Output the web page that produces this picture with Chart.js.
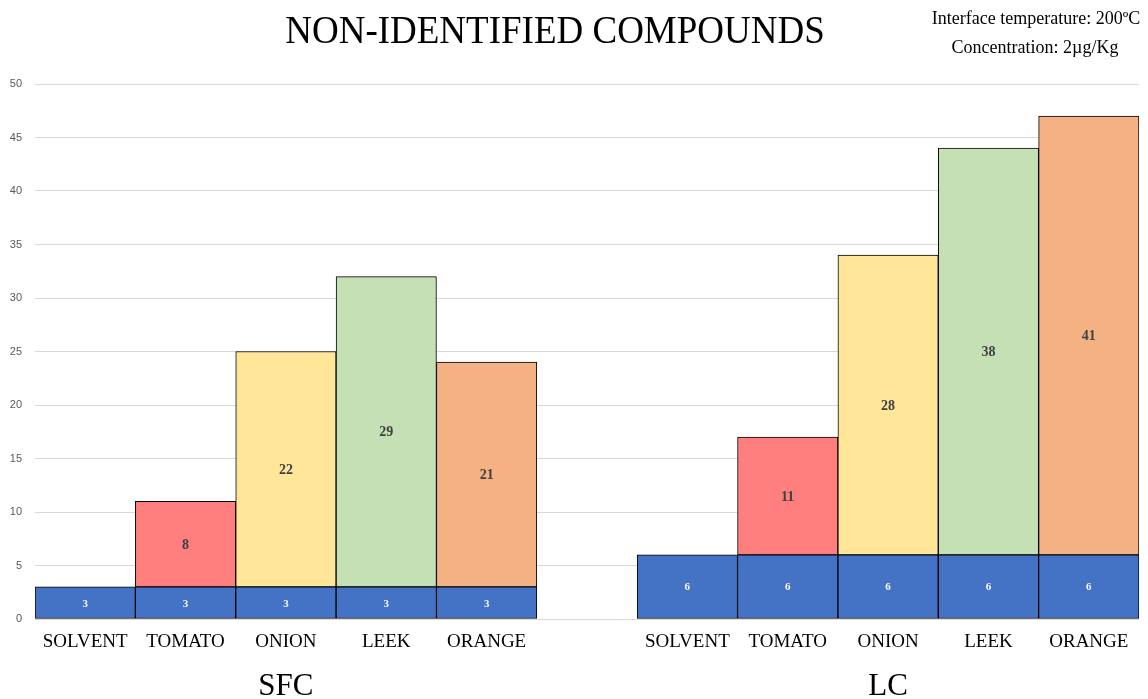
<!DOCTYPE html>
<html>
<head>
<meta charset="utf-8">
<script src="https://cdn.jsdelivr.net/npm/chart.js@4.4.1/dist/chart.umd.min.js"></script>
<style>
  html, body { margin: 0; padding: 0; background: #ffffff; }
  #wrap { width: 1148px; height: 699px; position: relative; }
</style>
</head>
<body>
<div id="wrap"><canvas id="chart" width="1148" height="699"></canvas></div>
<script>
// Categories: five SFC samples, an empty spacer, five LC samples
const categories = ['SOLVENT', 'TOMATO', 'ONION', 'LEEK', 'ORANGE', '',
                    'SOLVENT', 'TOMATO', 'ONION', 'LEEK', 'ORANGE'];
// Compounds found in the solvent blank (base of each stack)
const solventCounts = [3, 3, 3, 3, 3, null, 6, 6, 6, 6, 6];
// Additional compounds found in each matrix (top of each stack)
const matrixCounts  = [0, 8, 22, 29, 21, null, 0, 11, 28, 38, 41];
const yTicks = { min: 0, max: 50, step: 5 };
const groupLabels = [ { text: 'SFC', index: 2 }, { text: 'LC', index: 8 } ];
const titleText = 'NON-IDENTIFIED COMPOUNDS';
const noteLines = ['Interface temperature: 200\u00baC', 'Concentration: 2\u00b5g/Kg'];

const matrixColors = ['#FF7F7F', '#FF7F7F', '#FFE699', '#C5E0B4', '#F4B183', '#ffffff',
                      '#FF7F7F', '#FF7F7F', '#FFE699', '#C5E0B4', '#F4B183'];

const serif = '"Liberation Serif", "Times New Roman", serif';
const sans = '"Liberation Sans", Arial, sans-serif';

// Draws text slightly stretched vertically, like the tall serif captions
function tallText(ctx, text, x, y, stretch) {
  ctx.save();
  ctx.translate(x, y);
  ctx.scale(1, stretch);
  ctx.fillText(text, 0, 0);
  ctx.restore();
}

// Value labels centred in each bar segment, plus title, note and group captions
const annotate = {
  id: 'annotate',
  afterDatasetsDraw(chart) {
    const ctx = chart.ctx;
    ctx.save();
    ctx.textAlign = 'center';
    ctx.textBaseline = 'middle';
    chart.data.datasets.forEach((ds, di) => {
      const meta = chart.getDatasetMeta(di);
      meta.data.forEach((bar, i) => {
        const v = ds.data[i];
        if (v === null || v === 0) return;
        const y = (bar.y + bar.base) / 2;
        if (di === 0) {
          ctx.font = 'bold 11px ' + serif;
          ctx.fillStyle = '#ffffff';
        } else {
          ctx.font = 'bold 14px ' + serif;
          ctx.fillStyle = '#404040';
        }
        ctx.fillText(String(v), bar.x, y + 1);
      });
    });
    ctx.restore();
  },
  afterDraw(chart) {
    const ctx = chart.ctx;
    const xs = chart.scales.x;
    ctx.save();
    ctx.fillStyle = '#000000';
    ctx.textAlign = 'center';
    ctx.textBaseline = 'middle';
    ctx.font = '37px ' + serif;
    tallText(ctx, titleText, 555, 33, 1.08);
    ctx.font = '18px ' + serif;
    ctx.fillText(noteLines[0], 1036, 19);
    ctx.fillText(noteLines[1], 1035, 48);
    ctx.font = '31px ' + serif;
    groupLabels.forEach(g => {
      ctx.fillText(g.text, xs.getPixelForValue(g.index), 687);
    });
    ctx.restore();
  }
};

new Chart(document.getElementById('chart'), {
  type: 'bar',
  data: {
    labels: categories,
    datasets: [
      {
        label: 'Solvent',
        data: solventCounts,
        backgroundColor: '#4472C4',
        borderColor: '#000000',
        borderWidth: 1,
        borderSkipped: false
      },
      {
        label: 'Matrix',
        data: matrixCounts,
        backgroundColor: matrixColors,
        borderColor: '#000000',
        borderWidth: 1,
        borderSkipped: false
      }
    ]
  },
  options: {
    responsive: false,
    animation: false,
    events: [],
    layout: { padding: { top: 84, right: 9, left: 0, bottom: 0 } },
    datasets: { bar: { barPercentage: 1.0, categoryPercentage: 1.0 } },
    plugins: {
      legend: { display: false },
      title: { display: false },
      tooltip: { enabled: false }
    },
    scales: {
      x: {
        stacked: true,
        grid: { display: false, drawTicks: false },
        border: { display: false },
        ticks: {
          color: '#000000',
          font: { family: serif, size: 19 },
          padding: 12,
          maxRotation: 0,
          autoSkip: false
        },
        afterFit(scale) { scale.height = 80; }
      },
      y: {
        stacked: true,
        min: yTicks.min,
        max: yTicks.max,
        grid: { color: '#d9d9d9', lineWidth: 1, drawTicks: false },
        border: { display: false },
        ticks: {
          stepSize: yTicks.step,
          color: '#595959',
          font: { family: sans, size: 11 },
          padding: 13
        },
        afterFit(scale) { scale.width = 35; }
      }
    }
  },
  plugins: [annotate]
});
</script>
</body>
</html>
